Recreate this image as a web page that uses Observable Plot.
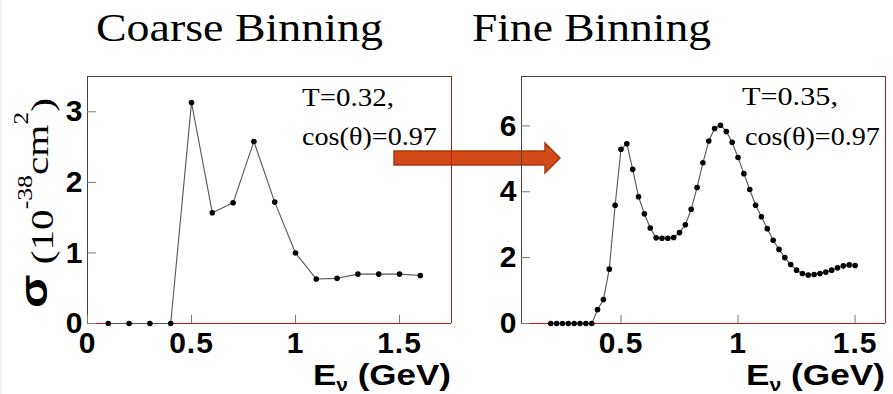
<!DOCTYPE html>
<html><head><meta charset="utf-8">
<script src="https://cdn.jsdelivr.net/npm/d3@7"></script>
<script src="https://cdn.jsdelivr.net/npm/@observablehq/plot@0.6"></script>
<style>
body{margin:0;background:#fff;}
#wrap{position:relative;width:893px;height:394px;overflow:hidden;background:#fff;}
.layer{position:absolute;top:0;}
</style>
</head><body><div id="wrap"></div>
<script>
// ---- data ----
const coarseE = [0.1,0.2,0.3,0.4,0.5,0.6,0.7,0.8,0.9,1.0,1.1,1.2,1.3,1.4,1.5,1.6];
const coarseSigma = [0,0,0,0,3.13,1.57,1.71,2.58,1.72,1.0,0.63,0.64,0.70,0.70,0.70,0.68];
const fineE = [0.2,0.225,0.25,0.275,0.3,0.325,0.35,0.375,0.4,0.425,0.45,0.475,0.5,0.525,0.55,0.575,0.6,0.625,0.65,0.675,0.7,0.725,0.75,0.775,0.8,0.825,0.85,0.875,0.9,0.925,0.95,0.975,1.0,1.025,1.05,1.075,1.1,1.125,1.15,1.175,1.2,1.225,1.25,1.275,1.3,1.325,1.35,1.375,1.4,1.425,1.45,1.475,1.5];
const fineSigma = [0,0,0,0,0,0,0,0,0.42,0.73,1.65,3.59,5.29,5.46,4.68,3.85,3.33,2.90,2.60,2.59,2.59,2.61,2.76,3.0,3.47,4.13,4.88,5.54,5.92,6.02,5.83,5.50,5.04,4.55,4.07,3.59,3.24,2.88,2.53,2.25,2.00,1.79,1.62,1.52,1.47,1.49,1.52,1.56,1.62,1.69,1.75,1.78,1.76];
const coarseXTicks = [0,0.5,1,1.5];
const coarseYTicks = [0,1,2,3];
const fineXTicks = [0.5,1,1.5];
const fineYTicks = [0,2,4,6];
const coarseXDomain = [0,1.75], coarseYDomain = [0,3.5];
const fineXDomain = [0.075,1.63], fineYDomain = [0,7.5];
const titles = ["Coarse Binning","Fine Binning"];
const notes = [["T=0.32,","cos(θ)=0.97"],["T=0.35,","cos(θ)=0.97"]];

const wrap = d3.select("#wrap");

// background layer (arrow)
const bg = wrap.append("svg").attr("class","layer").style("left","0px")
  .attr("width",893).attr("height",394);
bg.append("line").attr("x1",1).attr("x2",1).attr("y1",0).attr("y2",394).attr("stroke","#e4e4e4");
bg.append("path")
  .attr("d","M394,151 L545,151 L545,143 L560,158 L545,173 L545,165 L394,165 Z")
  .attr("fill","#d24a17").attr("stroke","#a53a10").attr("stroke-width",1.5);

function panel(xs, ys, xDomain, yDomain, xTicks, yTicks, width, marginLeft, marginRight, r) {
  const data = xs.map((e,i)=>({e, s: ys[i]}));
  const fmt = d => String(d);
  return Plot.plot({
    width, height: 334, marginLeft, marginRight, marginTop: 16, marginBottom: 71,
    style: {background: "transparent", overflow: "visible", fontFamily: "'Liberation Sans', Arial, sans-serif", color: "#000"},
    x: {domain: xDomain}, y: {domain: yDomain},
    marks: [
      Plot.ruleY([yDomain[1]], {stroke: "#444"}),
      Plot.ruleX([xDomain[0]], {stroke: "#444"}),
      Plot.ruleX([xDomain[1]], {stroke: "#cc1111"}),
      Plot.ruleY([yDomain[0]], {stroke: "#cc1111"}),
      Plot.axisY({ticks: yTicks, tickSize: 9, dx: 9, tickFormat: () => "", label: null, stroke: "#777"}),
      Plot.axisX({ticks: xTicks, tickSize: 8, dy: -8, tickFormat: () => "", label: null, stroke: "#777"}),
      Plot.axisY({ticks: yTicks, tickSize: 0, tickPadding: 4, tickFormat: fmt, label: null, fontSize: 30, fontWeight: "bold", fill: "#000"}),
      Plot.axisX({ticks: xTicks, tickSize: 0, tickPadding: 8, tickFormat: fmt, label: null, fontSize: 30, fontWeight: "bold", fill: "#000"}),
      Plot.line(data, {x: "e", y: "s", stroke: "#555", strokeWidth: 1.1}),
      Plot.dot(data, {x: "e", y: "s", r, fill: "#000", stroke: "none"})
    ]
  });
}

const p1 = panel(coarseE, coarseSigma, coarseXDomain, coarseYDomain, coarseXTicks, coarseYTicks, 460, 87, 9, 2.8);
const p2 = panel(fineE, fineSigma, fineXDomain, fineYDomain, fineXTicks, fineYTicks, 453, 81, 8, 2.8);
d3.select(p1).attr("class","layer").style("left","0px").style("top","60px");
d3.select(p2).attr("class","layer").style("left","440px").style("top","60px");
wrap.node().appendChild(p1);
wrap.node().appendChild(p2);
d3.selectAll("#wrap svg g[aria-label='x-axis tick label'] text, #wrap svg g[aria-label='y-axis tick label'] text").attr("letter-spacing", "1px");

// foreground text layer
const fg = wrap.append("svg").attr("class","layer").style("left","0px")
  .attr("width",893).attr("height",394).style("overflow","visible");

function fit(t, x, y, w, rot) {
  const len = t.node().getComputedTextLength();
  const sx = w / len;
  t.attr("transform", `translate(${x},${y})${rot ? " rotate(-90)" : ""} scale(${sx},1)`);
}
function serifText(str, x, y, w, size) {
  const t = fg.append("text").attr("font-family","'Liberation Serif','Times New Roman',serif")
    .attr("font-size", size).attr("fill","#000").text(str);
  fit(t, x, y, w, false);
}
serifText(titles[0], 96, 41, 287, 40);
serifText(titles[1], 472, 41, 239, 40);
serifText(notes[0][0], 302, 106, 92, 26);
serifText(notes[0][1], 302, 145, 135, 26);
serifText(notes[1][0], 742, 105, 96, 26);
serifText(notes[1][1], 745, 145, 135, 26);

function eLabel(x, w) {
  const t = fg.append("text").attr("font-family","'Liberation Sans',Arial,sans-serif")
    .attr("font-weight","bold").attr("font-size",30).attr("fill","#000");
  t.append("tspan").text("E");
  t.append("tspan").attr("font-size",18).attr("dy",6).text("ν");
  t.append("tspan").attr("dy",-6).text(" (GeV)");
  fit(t, x, 385, w, false);
}
eLabel(313, 138);
eLabel(746, 139);

// y-axis label
const yl = fg.append("text").attr("font-family","'Liberation Serif','Times New Roman',serif")
  .attr("font-size",32).attr("fill","#000");
yl.append("tspan").attr("font-family","'Liberation Sans',Arial,sans-serif").attr("font-weight","bold").attr("font-size",38).attr("dy",-6).text("σ");
yl.append("tspan").attr("dy",6).text(" (10");
yl.append("tspan").attr("font-size",20).attr("dy",-21).text("-38");
yl.append("tspan").attr("dy",16).text("cm");
yl.append("tspan").attr("font-size",20).attr("dy",-20).text("2");
yl.append("tspan").attr("dy",25).text(")");
fit(yl, 53, 308, 210, true);
</script>
</body></html>
